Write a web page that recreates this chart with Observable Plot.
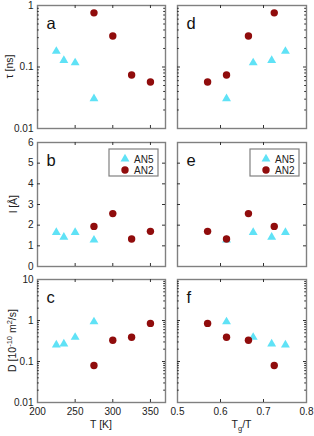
<!DOCTYPE html>
<html><head><meta charset="utf-8">
<script src="https://cdn.jsdelivr.net/npm/d3@7"></script>
<script src="https://cdn.jsdelivr.net/npm/@observablehq/plot@0.6"></script>
<style>
body{margin:0;background:#fff}
#fig{position:relative;width:314px;height:436px;font-family:"Liberation Sans",Arial,sans-serif;overflow:hidden}
#fig svg{position:absolute;overflow:visible}
</style>
</head><body><div id="fig"></div>
<script>
// ---- data ----
const seriesNames = ["AN5", "AN2"];
const tempAN5 = [225, 235, 250, 275];
const tempAN2 = [275, 300, 325, 350];
const ratioAN5 = [0.751, 0.719, 0.676, 0.614];   // Tg/T
const ratioAN2 = [0.725, 0.665, 0.614, 0.570];
const tauAN5 = [0.18, 0.128, 0.117, 0.0305];     // tau [ns]
const tauAN2 = [0.76, 0.32, 0.074, 0.057];
const lAN5 = [1.65, 1.42, 1.65, 1.28];           // l [Å]
const lAN2 = [1.94, 2.56, 1.33, 1.70];
const dAN5 = [0.255, 0.27, 0.39, 0.93];          // D [1e-10 m2/s]
const dAN2 = [0.08, 0.33, 0.39, 0.85];
const tTickLabels = [200, 250, 300, 350];
const rTickLabels = [0.5, 0.6, 0.7, 0.8];
const tauTickLabels = [0.01, 0.1, 1];
const lTickLabels = [0, 1, 2, 3, 4, 5, 6];
const dTickLabels = [0.01, 0.1, 1, 10];

const CYAN = "#5fe2f6", RED = "#900c0c";
const an5 = tempAN5.map((t, i) => ({T: t, R: ratioAN5[i], tau: tauAN5[i], l: lAN5[i], D: dAN5[i]}));
const an2 = tempAN2.map((t, i) => ({T: t, R: ratioAN2[i], tau: tauAN2[i], l: lAN2[i], D: dAN2[i]}));

function minorLog(lo, hi) {
  const out = [];
  for (let e = Math.round(Math.log10(lo)); e < Math.round(Math.log10(hi)); e++)
    for (let k = 2; k <= 9; k++) out.push(k * Math.pow(10, e));
  return out;
}

const fig = document.getElementById("fig");

function panel(c) {
  const fw = c.width - c.ml - c.mr, fh = c.height - c.mt - c.mb;
  const TL = 3, TM = 1.8, tc = "#333";
  const xd = c.xDomain, yd = c.yDomain;
  const xInner = c.xTicks.filter(v => v > xd[0] && v < xd[1]);
  const yInner = c.yTicks.filter(v => v > yd[0] && v < yd[1]);
  const yMinor = c.yType === "log" ? minorLog(yd[0], yd[1]) : [];
  const marks = [
    Plot.frame({stroke: "#808080", strokeWidth: 1.4}),
    Plot.tickX(xInner, {x: d => d, insetTop: fh - TL, stroke: tc}),
    Plot.tickX(xInner, {x: d => d, insetBottom: fh - TL, stroke: tc}),
    Plot.tickY(yInner, {y: d => d, insetRight: fw - TL, stroke: tc}),
    Plot.tickY(yInner, {y: d => d, insetLeft: fw - TL, stroke: tc}),
    Plot.tickY(yMinor, {y: d => d, insetRight: fw - TM, stroke: tc}),
    Plot.tickY(yMinor, {y: d => d, insetLeft: fw - TM, stroke: tc}),
    Plot.dot(an5, {x: c.xKey, y: c.yKey, symbol: "triangle", r: 3.3, fill: CYAN}),
    Plot.dot(an2, {x: c.xKey, y: c.yKey, symbol: "circle", r: 3.7, fill: RED}),
    Plot.text([c.letter], {text: d => d, frameAnchor: "top-left", dx: 9, dy: 12, lineAnchor: "top", textAnchor: "start", fontSize: 16.5, fill: "#111"})
  ];
  if (c.xLabels) marks.push(Plot.axisX({ticks: c.xTicks, tickSize: 0, tickPadding: 5, tickFormat: d => String(d), label: null, fontSize: 10, color: "#222"}));
  if (c.yLabels) marks.push(Plot.axisY({ticks: c.yTicks, tickSize: 0, tickPadding: 4, tickFormat: d => String(d), label: null, fontSize: 10, color: "#222"}));
  const svg = Plot.plot({
    width: c.width, height: c.height,
    marginLeft: c.ml, marginRight: c.mr, marginTop: c.mt, marginBottom: c.mb,
    x: {domain: xd, axis: c.xLabels ? undefined : null},
    y: {type: c.yType, domain: yd, axis: c.yLabels ? undefined : null},
    style: {fontFamily: '"Liberation Sans", Arial, sans-serif', background: "transparent", overflow: "visible"},
    marks
  });
  svg.style.left = c.left + "px";
  svg.style.top = c.top + "px";
  const s = d3.select(svg);
  if (c.legend) {
    const bx = c.ml + fw - 7 - 49, by = c.mt + 7;
    const g = s.append("g").attr("transform", `translate(${bx},${by})`).attr("text-anchor", "start");
    g.append("rect").attr("width", 49).attr("height", 27).attr("fill", "#fff").attr("stroke", "#808080").attr("stroke-width", 1.2);
    g.append("path").attr("transform", "translate(16,10)").attr("d", d3.symbol(d3.symbolTriangle, Math.PI * 3.3 * 3.3)()).attr("fill", CYAN);
    g.append("path").attr("transform", "translate(16,21)").attr("d", d3.symbol(d3.symbolCircle, Math.PI * 3.7 * 3.7)()).attr("fill", RED);
    g.append("text").attr("x", 25).attr("y", 14).attr("text-anchor", "start").attr("font-size", 10).attr("fill", "#222").text(seriesNames[0]);
    g.append("text").attr("x", 25).attr("y", 25).attr("text-anchor", "start").attr("font-size", 10).attr("fill", "#222").text(seriesNames[1]);
  }
  if (c.yTitle) {
    const cy = c.mt + fh / 2;
    s.append("text").attr("transform", `translate(${c.yTitleX},${cy}) rotate(-90)`)
      .attr("text-anchor", "middle").attr("font-size", 10.5).attr("fill", "#222").html(c.yTitle);
  }
  if (c.xTitle) {
    const cx = c.ml + fw / 2;
    s.append("text").attr("x", cx).attr("y", c.xTitleY)
      .attr("text-anchor", "middle").attr("font-size", 10.5).attr("fill", "#222").html(c.xTitle);
  }
  fig.appendChild(svg);
}

const L = {left: 0, width: 170, ml: 37, mr: 5, xKey: "T", xDomain: [200, 370], xTicks: tTickLabels, yLabels: true};
const R = {left: 170, width: 142, ml: 7, mr: 6, xKey: "R", xDomain: [0.5, 0.8], xTicks: rTickLabels, yLabels: false};
const rowA = {top: 0, height: 140, mt: 5, mb: 12, yKey: "tau", yType: "log", yDomain: [0.01, 1], yTicks: tauTickLabels, xLabels: false};
const rowB = {top: 130, height: 142, mt: 12, mb: 6, yKey: "l", yType: "linear", yDomain: [0, 6], yTicks: lTickLabels, xLabels: false, legend: true};
const rowC = {top: 270, height: 166, mt: 9, mb: 34, yKey: "D", yType: "log", yDomain: [0.01, 10], yTicks: dTickLabels, xLabels: true};

panel({...L, ...rowA, letter: "a", yTitle: "τ [ns]", yTitleX: 12.5});
panel({...R, ...rowA, letter: "d"});
panel({...L, ...rowB, letter: "b", yTitle: "l [Å]", yTitleX: 16.5});
panel({...R, ...rowB, letter: "e"});
panel({...L, ...rowC, letter: "c", yTitle: 'D [10<tspan dy="-4" font-size="7.5">-10</tspan><tspan dy="4"> m</tspan><tspan dy="-4" font-size="7.5">2</tspan><tspan dy="4">/s]</tspan>', yTitleX: 16, xTitle: "T [K]", xTitleY: 158});
panel({...R, ...rowC, letter: "f", xTitle: 'T<tspan dy="3" font-size="7.5">g</tspan><tspan dy="-3">/T</tspan>', xTitleY: 158});
</script>
</body></html>
